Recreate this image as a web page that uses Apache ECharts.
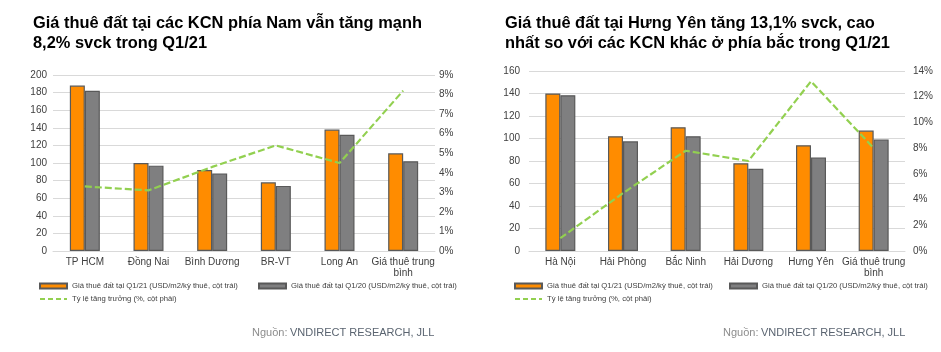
<!DOCTYPE html>
<html>
<head>
<meta charset="utf-8">
<script src="https://cdn.jsdelivr.net/npm/echarts@6/dist/echarts.min.js"></script>
<style>
html,body{margin:0;padding:0;background:#fff;}
#c{width:941px;height:352px;}
</style>
</head>
<body>
<div id="c"></div>
<script>
// ---- Data ----
const southCategories = ['TP HCM', 'Đồng Nai', 'Bình Dương', 'BR-VT', 'Long An', 'Giá thuê trung\nbình'];
const southQ121 = [188, 100, 92, 78, 138, 111];
const southQ120 = [182, 97, 88, 74, 132, 102];
const southGrowth = [3.3, 3.1, 4.3, 5.4, 4.5, 8.2];

const northCategories = ['Hà Nội', 'Hải Phòng', 'Bắc Ninh', 'Hải Dương', 'Hưng Yên', 'Giá thuê trung\nbình'];
const northQ121 = [140, 102, 110, 78, 94, 107];
const northQ120 = [138.5, 97.5, 102, 73, 83, 99];
const northGrowth = [1.0, 4.5, 7.8, 7.0, 13.2, 8.0];

const titleSouth = 'Giá thuê đất tại các KCN phía Nam vẫn tăng mạnh\n8,2% svck trong Q1/21';
const titleNorth = 'Giá thuê đất tại Hưng Yên tăng 13,1% svck, cao\nnhất so với các KCN khác ở phía bắc trong Q1/21';
const nameQ121 = 'Giá thuê đất tại Q1/21 (USD/m2/kỳ thuê, cột trái)';
const nameQ120 = 'Giá thuê đất tại Q1/20 (USD/m2/kỳ thuê, cột trái)';
const nameGrowth = 'Tỷ lệ tăng trưởng (%, cột phải)';
const sourceLabel = 'Nguồn: ';
const sourceText = 'VNDIRECT RESEARCH, JLL';

// ---- Styles ----
const FONT = '"Liberation Sans", Arial, sans-serif';
const ORANGE = '#FF8C00';
const GRAY = '#7F7F80';
const BORDER = '#595959';
const GREEN = '#92D050';
const GRID = '#D9D9D9';
const TXT = '#404040';

const chart = echarts.init(document.getElementById('c'));

function xAxis(idx, cats) {
  return {
    type: 'category', gridIndex: idx, data: cats,
    axisLine: {show: true, lineStyle: {color: GRID, width: 1}},
    axisTick: {show: false},
    axisLabel: {interval: 0, color: TXT, fontSize: 10, fontFamily: FONT, margin: 6, lineHeight: 11}
  };
}
function yLeft(idx, max, interval, margin) {
  return {
    type: 'value', gridIndex: idx, min: 0, max: max, interval: interval, position: 'left',
    axisLine: {show: false}, axisTick: {show: false},
    splitLine: {lineStyle: {color: GRID, width: 1}},
    axisLabel: {color: TXT, fontSize: 10, fontFamily: FONT, margin: margin}
  };
}
function yRight(idx, max, interval, margin) {
  return {
    type: 'value', gridIndex: idx, min: 0, max: max, interval: interval, position: 'right',
    axisLine: {show: false}, axisTick: {show: false}, splitLine: {show: false},
    axisLabel: {color: TXT, fontSize: 10, fontFamily: FONT, margin: margin, formatter: v => v + '%'}
  };
}
function bar(name, data, color, xi, yi) {
  return {
    type: 'bar', name: name, data: data, xAxisIndex: xi, yAxisIndex: yi,
    barWidth: 15, barGap: '0%',
    itemStyle: {color: color, borderColor: BORDER, borderWidth: 1.2},
    emphasis: {disabled: true}
  };
}
function line(name, data, xi, yi) {
  return {
    type: 'line', name: name, data: data, xAxisIndex: xi, yAxisIndex: yi,
    symbol: 'none', z: 5,
    lineStyle: {color: GREEN, width: 2.2, type: [7, 3]},
    itemStyle: {color: GREEN},
    emphasis: {disabled: true}
  };
}
function legendItem(name, left, top, isLine) {
  const base = {
    data: [name], left: left, top: top, orient: 'horizontal', padding: 0,
    itemWidth: 27, itemHeight: isLine ? 8 : 5, itemGap: 4,
    textStyle: {color: TXT, fontSize: 7.7, fontFamily: FONT},
    selectedMode: false
  };
  if (isLine) {
    base.lineStyle = {color: GREEN, width: 2, type: [5, 3]};
    base.itemStyle = {opacity: 0};
  } else {
    base.icon = 'rect';
  }
  return base;
}

const option = {
  animation: false,
  backgroundColor: '#fff',
  title: [
    {text: titleSouth, left: 33, top: 13, padding: 0, textStyle: {fontSize: 16.4, fontWeight: 'bold', color: '#000', fontFamily: FONT, lineHeight: 20}},
    {text: titleNorth, left: 505, top: 13, padding: 0, textStyle: {fontSize: 16.4, fontWeight: 'bold', color: '#000', fontFamily: FONT, lineHeight: 20}}
  ],
  grid: [
    {left: 53, right: 506, top: 75, bottom: 101},
    {left: 529, right: 36, top: 71, bottom: 101}
  ],
  xAxis: [xAxis(0, southCategories), xAxis(1, northCategories)],
  yAxis: [yLeft(0, 200, 20, 6), yRight(0, 9, 1, 4), yLeft(1, 160, 20, 9), yRight(1, 14, 2, 8)],
  legend: [
    legendItem(nameQ121, 39, 282, false),
    legendItem(nameQ120, 258, 282, false),
    legendItem(nameGrowth, 39, 295, true),
    legendItem(nameQ121, 514, 282, false),
    legendItem(nameQ120, 729, 282, false),
    legendItem(nameGrowth, 514, 295, true)
  ],
  series: [
    bar(nameQ121, southQ121, ORANGE, 0, 0),
    bar(nameQ120, southQ120, GRAY, 0, 0),
    line(nameGrowth, southGrowth, 0, 1),
    bar(nameQ121, northQ121, ORANGE, 1, 2),
    bar(nameQ120, northQ120, GRAY, 1, 2),
    line(nameGrowth, northGrowth, 1, 3)
  ],
  graphic: [
    {type: 'text', left: 252, top: 327, style: {text: sourceLabel, fill: '#8C8C8C', font: '11px ' + FONT}},
    {type: 'text', left: 290, top: 327, style: {text: sourceText, fill: '#5A6470', font: '11px ' + FONT}},
    {type: 'text', left: 723, top: 327, style: {text: sourceLabel, fill: '#8C8C8C', font: '11px ' + FONT}},
    {type: 'text', left: 761, top: 327, style: {text: sourceText, fill: '#5A6470', font: '11px ' + FONT}}
  ]
};
chart.setOption(option);
</script>
</body>
</html>
